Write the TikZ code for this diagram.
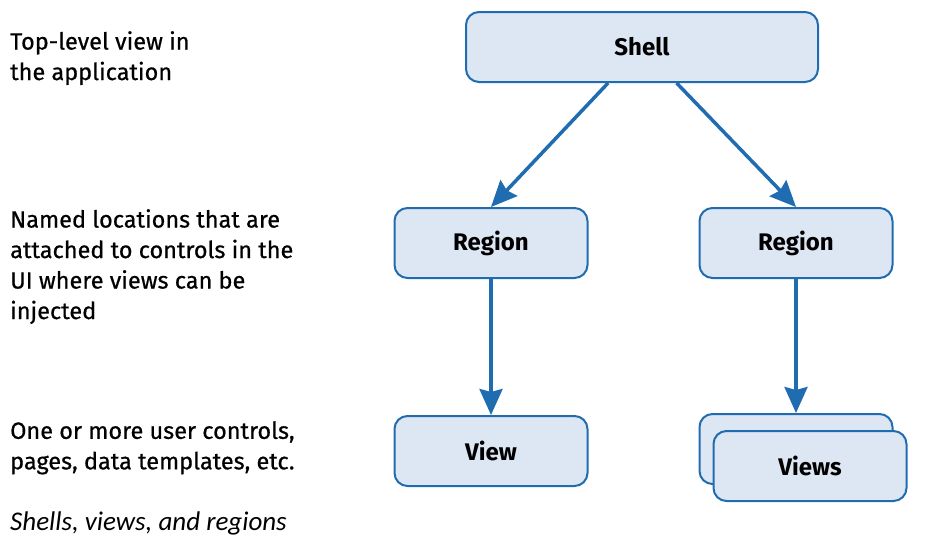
\documentclass[tikz,border=0pt]{standalone}
\usepackage{fontspec}
\setmainfont{Fira Sans}
\newfontfamily\notefont{Fira Sans}[FakeBold=0.6]
\newfontfamily\capfont{Carlito}
\usetikzlibrary{arrows.meta}
\definecolor{boxblue}{HTML}{1F6CB0}
\definecolor{boxfill}{HTML}{DDE6F3}
\begin{document}
\begin{tikzpicture}[x=1pt,y=-1pt,
  box/.style={draw=boxblue,fill=boxfill,line width=2pt,rounded corners=13pt,
    minimum width=193pt,minimum height=70pt,font=\fontsize{24}{28}\selectfont\bfseries},
  link/.style={draw=boxblue,line width=3.5pt,-{Stealth[length=26pt,width=23pt,inset=3pt]}},
  note/.style={anchor=north west,align=left,inner sep=0pt,font=\fontsize{23.5}{30.5}\notefont}]
\useasboundingbox (0,0) rectangle (926,550);
% boxes
\node[box,minimum width=352pt] (shell) at (642,47) {Shell};
\node[box] (regl) at (491,243) {Region};
\node[box] (regr) at (796,243) {Region};
\node[box] (view) at (491,451) {View};
\node[box] (viewsb) at (796,449) {};
\node[box] (views) at (810,466) {Views};
% arrows
\draw[link] (shell) -- (regl.north);
\draw[link] (shell) -- (regr.north);
\draw[link] (regl) -- (view);
\draw[link] (regr) -- (viewsb);
% notes on the left
\node[note] (n1) at (10,31) {Top-level view in\\the application};
\node[note] (n2) at (10,209) {Named locations that are\\attached to controls in the\\UI where views can be\\injected};
\node[note] (n3) at (10,421) {One or more user controls,\\pages, data templates, etc.};
\node[note,font=\fontsize{27}{30}\capfont\itshape] (cap) at (10,512) {Shells, views, and regions};
\end{tikzpicture}
\end{document}
